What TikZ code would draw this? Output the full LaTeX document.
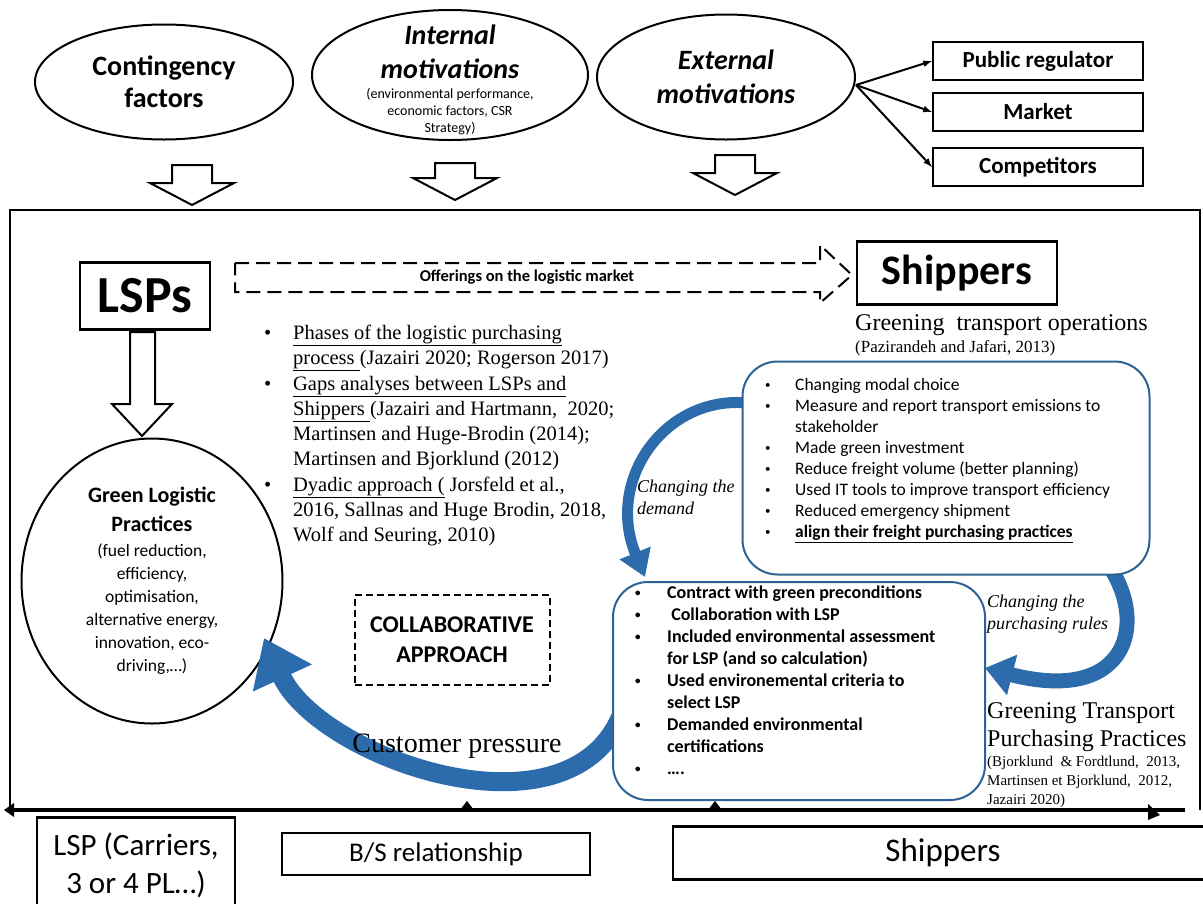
\documentclass[tikz,border=0pt]{standalone}
\usepackage{fontspec}
\setmainfont{Liberation Serif}
\setsansfont{Carlito}
\usetikzlibrary{shapes.geometric,arrows.meta,positioning}
\definecolor{arrowblue}{RGB}{44,108,172}
\definecolor{boxblue}{RGB}{46,98,148}
\newcommand{\smallbul}[1]{\makebox[#1][l]{\raisebox{2pt}{\fontsize{11}{11}\selectfont\textbullet}}}

\begin{document}
\begin{tikzpicture}[x=1pt,y=-1pt,>=latex]
\tikzstyle{oval}=[ellipse,draw=black,line width=2pt,inner sep=0pt,align=center]
\tikzstyle{factbox}=[rectangle,draw=black,line width=2pt,minimum width=210pt,
minimum height=38pt,font=\sffamily\bfseries\fontsize{23}{26}\selectfont]
\tikzstyle{bigbox}=[rectangle,draw=black,line width=2.5pt,inner sep=0pt,
font=\sffamily\bfseries\fontsize{42}{48}\selectfont]
\tikzstyle{bluebox}=[rectangle,rounded corners=35pt,draw=boxblue,line width=2pt,fill=white]
\tikzstyle{bluearrow}=[draw=arrowblue,line cap=butt]
\tikzstyle{hollow}=[draw=black,line width=2pt,fill=white,line join=miter]
\tikzstyle{bottombox}=[rectangle,draw=black,line width=2.5pt,inner sep=0pt,align=center,
font=\sffamily\fontsize{27}{38}\selectfont]

\useasboundingbox (0,0) rectangle (1203,903);

% motivations
\node[oval,minimum width=258pt,minimum height=115pt,
font=\sffamily\bfseries\fontsize{28}{32}\selectfont] (cont) at (164,82) {Contingency\\factors};
\node[oval,minimum width=276pt,minimum height=130pt] (intm) at (450,75) {};
\node[align=center,inner sep=0pt,font=\sffamily\fontsize{14}{17}\selectfont] (intmtext) at (450,80)
{{\bfseries\itshape\fontsize{28}{33}\selectfont Internal}\\[13pt]
{\bfseries\itshape\fontsize{28}{33}\selectfont motivations}\\[3pt]
(environmental performance,\\economic factors, CSR\\Strategy)};
\node[oval,minimum width=258pt,minimum height=125pt,
font=\sffamily\bfseries\itshape\fontsize{28}{34}\selectfont] (extm) at (726,77) {External\\motivations};

\node[factbox] at (1038,61) (pub) {Public regulator};
\node[factbox,below of=pub,node distance=51pt] (mkt) {Market};
\node[factbox,below of=mkt,node distance=55pt] (comp) {Competitors};

\path[->,line width=2pt] ([yshift=-8pt]extm.east) edge (pub.west);
\path[->,line width=2pt] ([yshift=-8pt]extm.east) edge (mkt.west);
\path[->,line width=2pt] ([yshift=-8pt]extm.east) edge (comp.west);

% hollow arrows into the frame
\foreach \x/\t/\b in {192/165/205, 455/163/200, 735/155/195}
\draw[hollow] (\x-20,\t) -- (\x+20,\t) -- (\x+20,\b-22) -- (\x+42,\b-22) -- (\x,\b)
 -- (\x-42,\b-22) -- (\x-20,\b-22) -- cycle;

% frame
\draw[line width=2.5pt] (10,810) -- (10,210) -- (1200,210) -- (1200,810);
\draw[line width=4pt] (10,810) -- (1185,810);
\fill (4,810) -- (14,803) -- (14,817) -- cycle;
\fill (460,810) -- (467,801) -- (474,810) -- cycle;
\fill (708,810) -- (715,801) -- (722,810) -- cycle;
\fill (1160,815) -- (1148,804) -- (1148,820) -- cycle;

% LSPs and shippers
\node[bigbox,minimum width=130pt,minimum height=67pt,
font=\sffamily\bfseries\fontsize{52}{56}\selectfont] (lsps) at (145,296) {LSPs};
\node[bigbox,minimum width=200pt,minimum height=63pt] (ship) at (957,273) {Shippers};

\draw[hollow] (130,332) -- (155,332) -- (155,404) -- (172,404) -- (142,436)
 -- (112,404) -- (130,404) -- cycle;

\draw[dashed,dash pattern=on 14pt off 7pt,line width=2pt] (235,263) -- (820,263) -- (820,245)
 -- (852,275) -- (820,303) -- (820,292) -- (235,292) -- cycle;
\node[font=\sffamily\bfseries\fontsize{16.5}{18}\selectfont] (offer) at (527,277) {Offerings on the logistic market};

\node[oval,minimum width=261pt,minimum height=285pt,
font=\sffamily\fontsize{17.5}{23}\selectfont] (glp) at (152,581)
{{\bfseries\fontsize{22}{28}\selectfont Green Logistic}\\[6pt]
{\bfseries\fontsize{22}{28}\selectfont Practices}\\[2pt]
(fuel reduction,\\efficiency,\\optimisation,\\alternative energy,\\innovation, eco-\\driving,\dots)};

\node[anchor=north west,align=left,inner sep=0pt,
font=\rmfamily\fontsize{20.5}{25.25}\selectfont] (refs) at (264,325)
{\makebox[29pt][l]{\textbullet}\underline{Phases of the logistic purchasing}\\
\hspace*{29pt}\underline{process }(Jazairi 2020; Rogerson 2017)\\
\makebox[29pt][l]{\textbullet}\underline{Gaps analyses between LSPs and}\\
\hspace*{29pt}\underline{Shippers }(Jazairi and Hartmann,\ \ 2020;\\
\hspace*{29pt}Martinsen and Huge-Brodin (2014);\\
\hspace*{29pt}Martinsen and Bjorklund (2012)\\
\makebox[29pt][l]{\textbullet}\underline{Dyadic approach (} Jorsfeld et al.,\\
\hspace*{29pt}2016, Sallnas and Huge Brodin, 2018,\\
\hspace*{29pt}Wolf and Seuring, 2010)};

\node[rectangle,draw=black,line width=2pt,dashed,dash pattern=on 7pt off 4pt,
minimum width=195pt,minimum height=90pt,align=center,
font=\sffamily\bfseries\fontsize{24}{30}\selectfont] (collab) at (452,640) {COLLABORATIVE\\APPROACH};

% blue arrows
\draw[bluearrow,line width=11pt,-{Triangle[length=26pt,width=32pt]}]
 (748,403) .. controls (665,395) and (605,480) .. (645,577);
\draw[bluearrow,line width=15pt,-{Triangle[length=28pt,width=40pt]}]
 (1105,560) .. controls (1150,620) and (1130,705) .. (985,668);
\draw[bluearrow,line width=19pt,-{Triangle[length=44pt,width=62pt]}]
 (625,705) .. controls (580,850) and (320,760) .. (264,638);

% shippers practices
\node[bluebox,minimum width=407pt,minimum height=213pt] (ops) at (946,468) {};
\node[anchor=north west,align=left,inner sep=0pt,
font=\sffamily\fontsize{17.5}{21}\selectfont] (opslist) at (765,378)
{\smallbul{30pt}Changing modal choice\\
\smallbul{30pt}Measure and report transport emissions to\\
\hspace*{30pt}stakeholder\\
\smallbul{30pt}Made green investment\\
\smallbul{30pt}Reduce freight volume (better planning)\\
\smallbul{30pt}Used IT tools to improve transport efficiency\\
\smallbul{30pt}Reduced emergency shipment\\
\smallbul{30pt}\underline{\bfseries align their freight purchasing practices}};

\node[bluebox,minimum width=372pt,minimum height=218pt] (purch) at (799,691) {};
\node[anchor=north west,align=left,inner sep=0pt,
font=\sffamily\bfseries\fontsize{18}{22}\selectfont] (purchlist) at (635,586)
{\smallbul{32pt}Contract with green preconditions\\
\smallbul{32pt}\ Collaboration with LSP\\
\smallbul{32pt}Included environmental assessment\\
\hspace*{32pt}for LSP (and so calculation)\\
\smallbul{32pt}Used environemental criteria to\\
\hspace*{32pt}select LSP\\
\smallbul{32pt}Demanded environmental\\
\hspace*{32pt}certifications\\
\smallbul{32pt}\dots.};

% labels
\node[anchor=base west,inner sep=0pt,font=\rmfamily\fontsize{24}{28}\selectfont] (gto) at (855,330) {Greening\ \ transport operations};
\node[anchor=base west,inner sep=0pt,font=\rmfamily\fontsize{17}{20}\selectfont] (gtoref) at (855,352) {(Pazirandeh and Jafari, 2013)};
\node[anchor=north west,align=left,inner sep=0pt,font=\rmfamily\itshape\fontsize{18}{22}\selectfont] (demand) at (637,480) {Changing the\\demand};
\node[anchor=north west,align=left,inner sep=0pt,font=\rmfamily\itshape\fontsize{18}{22}\selectfont] (rules) at (987,595) {Changing the\\purchasing rules};
\node[anchor=base,inner sep=0pt,font=\rmfamily\fontsize{28}{32}\selectfont] (custp) at (457,752) {Customer pressure};
\node[anchor=north west,align=left,inner sep=0pt,font=\rmfamily\fontsize{24}{28}\selectfont] (gtpp) at (987,702) {Greening Transport\\Purchasing Practices};
\node[anchor=north west,align=left,inner sep=0pt,font=\rmfamily\fontsize{15}{19}\selectfont] (gtppref) at (987,756) {(Bjorklund\ \ \& Fordtlund,\ \ 2013,\\Martinsen et Bjorklund,\ \ 2012,\\Jazairi 2020)};

% bottom row
\node[bottombox,minimum width=198pt,minimum height=95pt,
font=\sffamily\fontsize{31}{38}\selectfont] (lspbot) at (136,865) {LSP (Carriers,\\3 or 4 PL\dots)};
\node[bottombox,minimum width=308pt,minimum height=42pt] (bsbot) at (436,854) {B/S relationship};
\node[bottombox,minimum width=540pt,minimum height=53pt,
font=\sffamily\fontsize{33}{38}\selectfont] (shipbot) at (943,853) {Shippers};

\end{tikzpicture}
\end{document}
